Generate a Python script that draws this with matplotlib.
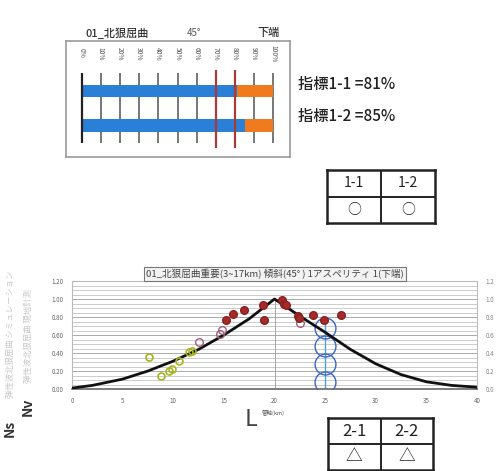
import matplotlib
matplotlib.use('Agg')
import matplotlib.pyplot as plt

plt.rcParams['font.family'] = ['Noto Sans CJK JP', 'DejaVu Sans']

# ---- data ----
pct_ticks = [0, 10, 20, 30, 40, 50, 60, 70, 80, 90, 100]
bar_names = ['1-1', '1-2']
bar_blue = [81, 85]
limit_lines = [70, 80]

curve_x = [0, 2, 5, 7.5, 10, 12.5, 15, 17.5, 20, 22.5, 25, 27.5, 30, 32.5, 35, 37.5, 40]
curve_y = [0.01, 0.04, 0.11, 0.20, 0.31, 0.44, 0.60, 0.78, 1.00, 0.81, 0.63, 0.44,
           0.28, 0.16, 0.08, 0.04, 0.02]

yellow_x = [7.6, 8.8, 9.6, 9.9, 10.6, 11.6, 11.9]
yellow_y = [0.36, 0.14, 0.20, 0.22, 0.31, 0.41, 0.42]
purple_x = [12.5, 14.6, 14.8, 22.5]
purple_y = [0.52, 0.61, 0.66, 0.73]
red_x = [15.2, 15.9, 17.0, 18.9, 19.0, 20.7, 20.9, 21.1, 22.3, 22.4, 23.8, 24.9, 26.6]
red_y = [0.77, 0.83, 0.88, 0.93, 0.77, 0.99, 0.94, 0.93, 0.81, 0.79, 0.82, 0.77, 0.82]
blue_x = [25, 25, 25, 25]
blue_y = [0.68, 0.48, 0.28, 0.08]
blue_line_x = 25
blue_line_top = 0.78
peak_x = 20

x_ticks = [0, 5, 10, 15, 20, 25, 30, 35, 40]
y_ticks = [0.0, 0.2, 0.4, 0.6, 0.8, 1.0, 1.2]

table1_head = ['1-1', '1-2']
table1_mark = ['○', '○']
table2_head = ['2-1', '2-2']
table2_mark = ['△', '△']

W, H = 498, 471
fig = plt.figure(figsize=(W / 100, H / 100), dpi=100)
fig.patch.set_facecolor('white')


def box(x0, y0, x1, y1):
    return fig.add_axes([x0 / W, 1 - y1 / H, (x1 - x0) / W, (y1 - y0) / H])


def ftext(x, y, s, **kw):
    fig.text(x / W, 1 - y / H, s, **kw)


# ---- top: bar chart ----
ftext(85, 33, '01_北狠屈曲', fontsize=8, color='#333', va='center', fontweight='medium')
ftext(187, 33, '45°', fontsize=7, color='#555', va='center')
ftext(257, 33, '下端', fontsize=8, color='#333', va='center', fontweight='medium')

ax1 = box(66, 41, 290, 157)
ax1.set_xlim(-8.2, 108.7)
ax1.set_ylim(1.91, -1.45)
ax1.set_xticks([])
ax1.set_yticks([])
for s in ax1.spines.values():
    s.set_color('#999')
    s.set_linewidth(1.2)
for p in pct_ticks:
    ax1.vlines(p, -0.52, 1.51, color='#777' if p else '#222', lw=1.4 if p else 1.6,
               zorder=1 if p else 4)
    ax1.text(p, -1.09, f'{p}%', rotation=-90, fontsize=4.8, color='#555',
             ha='center', va='center')
ypos = list(range(len(bar_names)))
ax1.barh(ypos, bar_blue, height=0.36, color='#2a7fd6', zorder=2)
ax1.barh(ypos, [100 - b for b in bar_blue], left=bar_blue, height=0.36,
         color='#f07a1e', zorder=2)
ax1.vlines(limit_lines, -0.61, 1.65, color='#a83a3a', lw=1.6, zorder=3)

ftext(298, 85, f'指標{bar_names[0]} ={bar_blue[0]}%', fontsize=11, color='#222',
      va='center', fontweight='medium')
ftext(298, 117, f'指標{bar_names[1]} ={bar_blue[1]}%', fontsize=11, color='#222',
      va='center', fontweight='medium')


# ---- tables ----
def draw_table(x0, y0, x1, y1, head, mark, fs):
    ax = box(x0, y0, x1, y1)
    ax.set_xlim(0, 2)
    ax.set_ylim(2, 0)
    ax.set_xticks([])
    ax.set_yticks([])
    for s in ax.spines.values():
        s.set_linewidth(1.8)
        s.set_color('#222')
    ax.axhline(1, color='#222', lw=1.4)
    ax.axvline(1, color='#222', lw=1.4)
    for i in range(2):
        ax.text(i + 0.5, 0.5, head[i], ha='center', va='center', fontsize=fs, color='#222')
        ax.text(i + 0.5, 1.5, mark[i], ha='center', va='center', fontsize=fs, color='#222')


draw_table(327, 170, 435, 223, table1_head, table1_mark, 10)
draw_table(328, 418, 433, 470, table2_head, table2_mark, 12)

# ---- bottom: line chart ----
ax2 = box(72, 281, 477, 389)
ax2.set_xlim(0, 40)
ax2.set_ylim(0, 1.2)
ax2.set_yticks([i * 0.05 for i in range(25)], minor=True)
ax2.grid(True, which='minor', axis='y', color='#c4c4c4', lw=0.6)
ax2.grid(True, which='major', axis='y', color='#aaa', lw=0.7)
ax2.set_xticks(x_ticks)
ax2.set_xticklabels([str(t) for t in x_ticks], fontsize=4.5, color='#666')
ax2.set_yticks(y_ticks)
ax2.set_yticklabels([f'{t:.2f}' for t in y_ticks], fontsize=4.5, color='#666')
ax2.tick_params(length=0, pad=6)
ax2.tick_params(axis='y', which='minor', length=0)
for s in ax2.spines.values():
    s.set_color('#bbb')
    s.set_linewidth(0.8)
ax2.spines['bottom'].set_color('#666')
ax2.spines['bottom'].set_linewidth(1.2)

ax2.vlines(peak_x, 0, 1.0, color='#999', lw=0.6)
ax2.vlines(blue_line_x, 0, blue_line_top, color='#4aa0e0', lw=1.0)
ax2.plot(blue_x, blue_y, 'o', ms=15, mfc='none', mec='#3a66c4', mew=1.0)
ax2.plot(curve_x, curve_y, color='#111', lw=2.0, zorder=4)
ax2.plot(yellow_x, yellow_y, 'o', ms=5, mfc='none', mec='#a8b41e', mew=1.2, zorder=5)
ax2.plot(purple_x, purple_y, 'o', ms=5.5, mfc='none', mec='#a0607a', mew=1.0, zorder=5)
ax2.plot(red_x, red_y, 'o', ms=5.5, mfc='#a52a2a', mec='#8a2020', zorder=5)

ax3 = ax2.twinx()
ax3.set_ylim(0, 1.2)
ax3.set_yticks(y_ticks)
ax3.set_yticklabels([f'{t:.1f}' for t in y_ticks], fontsize=4.5, color='#888')
ax3.tick_params(length=0, pad=6)
for s in ax3.spines.values():
    s.set_visible(False)

ftext(146, 274, '01_北狠屈曲重要(3~17km) 傾斜(45° ) 1アスペリティ 1(下端)', fontsize=6.9,
      color='#444', va='center',
      bbox=dict(boxstyle='square,pad=0.2', fc='#f2f2f2', ec='#777', lw=0.8))

ftext(251, 420, 'L', fontsize=17, color='#444', ha='center', va='center')
ftext(262, 413, '管軸(km)', fontsize=4, color='#555', va='center')

ftext(10, 428, 'Ns', fontsize=10, color='#333', rotation=90, ha='center', va='center',
      fontweight='bold')
ftext(28, 407, 'Nv', fontsize=10, color='#333', rotation=90, ha='center', va='center',
      fontweight='bold')
ftext(10, 334, '弾性波北狠屈曲 シミュレーション', fontsize=6, color='#c8c8c8', rotation=90,
      ha='center', va='center')
ftext(28, 336, '弾性波北狠屈曲 現地計測', fontsize=6, color='#c8c8c8', rotation=90,
      ha='center', va='center')

fig.savefig('out.png', dpi=100)
